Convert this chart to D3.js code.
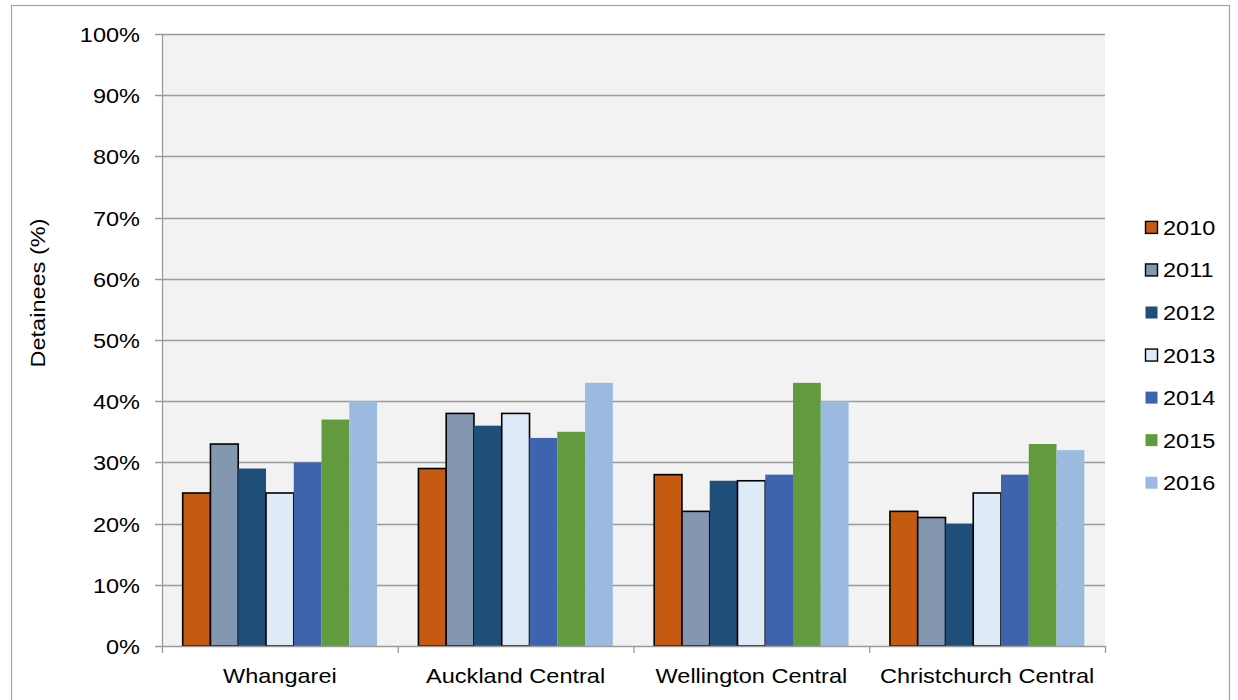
<!DOCTYPE html>
<html>
<head>
<meta charset="utf-8">
<script src="https://cdn.jsdelivr.net/npm/d3@7"></script>
<style>
  body { margin: 0; background: #fff; }
  svg { display: block; font-family: "Liberation Sans", Arial, sans-serif; }
</style>
</head>
<body>
<div id="chart"></div>
<script>
// data
const categories = ["Whangarei", "Auckland Central", "Wellington Central", "Christchurch Central"]
const years = ["2010", "2011", "2012", "2013", "2014", "2015", "2016"]
const values2010 = [25, 29, 28, 22]
const values2011 = [33, 38, 22, 21]
const values2012 = [29, 36, 27, 20]
const values2013 = [25, 38, 27, 25]
const values2014 = [30, 34, 28, 28]
const values2015 = [37, 35, 43, 33]
const values2016 = [40, 43, 40, 32]
const yTicks = [0, 10, 20, 30, 40, 50, 60, 70, 80, 90, 100]

const seriesValues = [values2010, values2011, values2012, values2013, values2014, values2015, values2016]
const fills = ["#C55A11", "#8497B0", "#1F4E79", "#DEEBF7", "#3E64AE", "#629A3E", "#9ABADF"]
const outlined = [true, true, false, true, false, false, false]

const width = 1238
const height = 700
const plot = {left: 162, right: 1105, top: 34, bottom: 646}
const fontSize = 21
const stretch = 1.12   // reference text is a bit wider than Liberation Sans

const svg = d3.select("#chart").append("svg")
    .attr("width", width)
    .attr("height", height)

// outer chart border
svg.append("rect")
    .attr("x", 11.5).attr("y", 5.5)
    .attr("width", 1218).attr("height", 710)
    .attr("fill", "#fff")
    .attr("stroke", "#a6a6a6")
    .attr("stroke-width", 1.2)

const x0 = d3.scaleBand().domain(categories).range([plot.left, plot.right]).paddingInner(0).paddingOuter(0)
const x1 = d3.scaleBand().domain(years).range([0, x0.bandwidth()]).paddingOuter(0.745).paddingInner(0)
const y = d3.scaleLinear().domain([0, 100]).range([plot.bottom, plot.top])

// plot background
svg.append("rect")
    .attr("x", plot.left).attr("y", plot.top)
    .attr("width", plot.right - plot.left).attr("height", plot.bottom - plot.top)
    .attr("fill", "#F2F2F2")

// gridlines
svg.append("g")
    .selectAll("line")
    .data(yTicks.filter(d => d > 0))
    .join("line")
    .attr("x1", plot.left - 7).attr("x2", plot.right)
    .attr("y1", d => Math.round(y(d)) + 0.5).attr("y2", d => Math.round(y(d)) + 0.5)
    .attr("stroke", "#9a9a9a")
    .attr("stroke-width", 1.3)

// bars
const data = []
categories.forEach((c, ci) => {
    years.forEach((yr, si) => {
        data.push({cat: c, year: yr, si: si, value: seriesValues[si][ci]})
    })
})

svg.append("g")
    .selectAll("rect")
    .data(data)
    .join("rect")
    .attr("x", d => x0(d.cat) + x1(d.year))
    .attr("y", d => y(d.value))
    .attr("width", x1.bandwidth())
    .attr("height", d => y(0) - y(d.value))
    .attr("fill", d => fills[d.si])
    .attr("stroke", d => outlined[d.si] ? "#000" : "none")
    .attr("stroke-width", 1.6)

// axis lines
svg.append("line")
    .attr("x1", plot.left + 0.5).attr("x2", plot.left + 0.5)
    .attr("y1", plot.top).attr("y2", plot.bottom)
    .attr("stroke", "#9a9a9a").attr("stroke-width", 1.3)

svg.append("line")
    .attr("x1", plot.left - 7).attr("x2", plot.right)
    .attr("y1", plot.bottom + 0.5).attr("y2", plot.bottom + 0.5)
    .attr("stroke", "#9a9a9a").attr("stroke-width", 1.3)

// y tick labels
svg.append("g")
    .selectAll("text")
    .data(yTicks)
    .join("text")
    .attr("transform", d => `translate(140,${y(d) + 8}) scale(${stretch},1)`)
    .attr("text-anchor", "end")
    .attr("font-size", fontSize)
    .attr("fill", "#000")
    .text(d => d + "%")

// category tick marks
svg.append("g")
    .selectAll("line")
    .data(d3.range(categories.length + 1))
    .join("line")
    .attr("x1", i => plot.left + i * x0.bandwidth() + 0.5)
    .attr("x2", i => plot.left + i * x0.bandwidth() + 0.5)
    .attr("y1", plot.bottom).attr("y2", plot.bottom + 7)
    .attr("stroke", "#9a9a9a").attr("stroke-width", 1.3)

svg.append("g")
    .selectAll("text")
    .data(categories)
    .join("text")
    .attr("transform", d => `translate(${x0(d) + x0.bandwidth() / 2},683) scale(${stretch},1)`)
    .attr("text-anchor", "middle")
    .attr("font-size", fontSize)
    .attr("fill", "#000")
    .text(d => d)

// y axis title
svg.append("text")
    .attr("transform", `translate(45,293) rotate(-90) scale(${stretch},1)`)
    .attr("text-anchor", "middle")
    .attr("font-size", fontSize)
    .attr("fill", "#000")
    .text("Detainees (%)")

// legend
const legend = svg.append("g")
    .selectAll("g")
    .data(years)
    .join("g")
    .attr("transform", (d, i) => `translate(1145.5, ${227.4 + i * 42.55})`)

legend.append("rect")
    .attr("x", 0).attr("y", -6)
    .attr("width", 12).attr("height", 12)
    .attr("fill", (d, i) => fills[i])
    .attr("stroke", (d, i) => outlined[i] ? "#000" : "none")
    .attr("stroke-width", 1.4)

legend.append("text")
    .attr("transform", `translate(17.5,7.5) scale(${stretch},1)`)
    .attr("font-size", fontSize)
    .attr("fill", "#000")
    .text(d => d)
</script>
</body>
</html>
